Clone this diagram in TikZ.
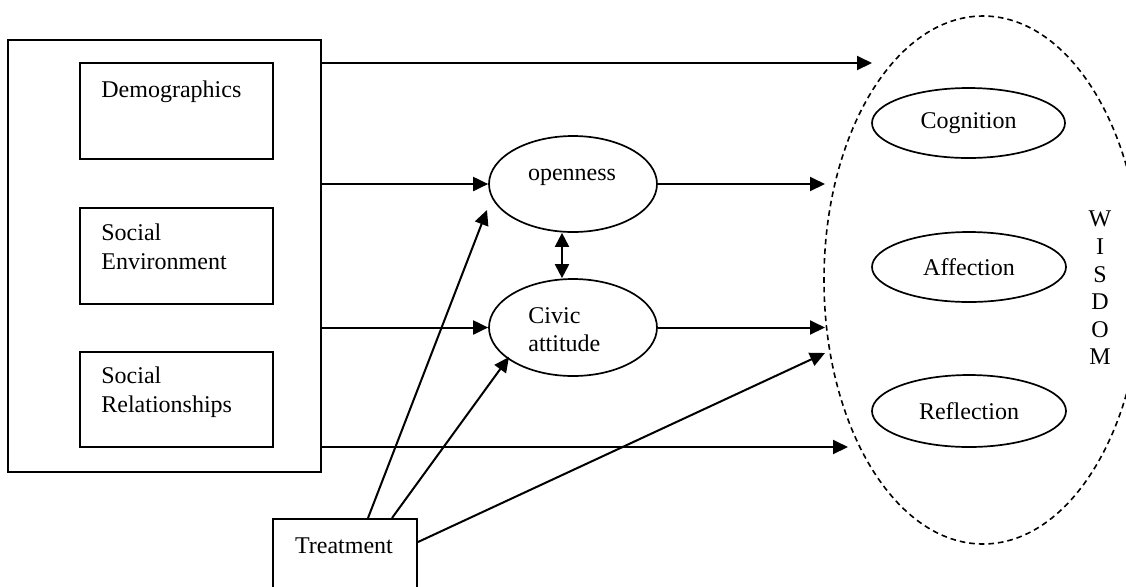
\documentclass[tikz,border=0pt]{standalone}
\usepackage{fontspec}
\setmainfont{Liberation Serif}
\usetikzlibrary{arrows.meta,shapes.geometric,calc}

\tikzset{
  pxbox/.style={draw, rectangle, line width=1pt, inner sep=0pt},
  oval/.style={draw, ellipse, line width=0.85pt, inner sep=0pt},
  lbl/.style={inner sep=0pt, anchor=base west},
  tip/.style={Triangle[length=7.5pt,width=7pt]},
  link/.style={-{Triangle[length=7.5pt,width=7pt]}, line width=1pt},
  duallink/.style={{Triangle[length=7pt,width=7pt]}-{Triangle[length=7pt,width=7pt]}, line width=1pt},
}

\begin{document}
\begin{tikzpicture}[x=0.5pt, y=-0.5pt, font=\fontsize{12}{14}\selectfont]
  \clip (0,0) rectangle (1126,586);

  % background factors
  \node[pxbox, minimum width=156.5pt, minimum height=216pt] (factors) at (164.5,256) {};
  \node[pxbox, minimum width=96.5pt, minimum height=48pt] (demo) at (176.5,111) {};
  \node[pxbox, minimum width=96.5pt, minimum height=48pt] (env) at (176.5,256) {};
  \node[pxbox, minimum width=96.5pt, minimum height=47.5pt] (rel) at (176.5,399.5) {};
  \node[lbl] (demoT) at (101,97) {Demographics};
  \node[lbl] (envA) at (101,240) {Social};
  \node[lbl] (envB) at (101,269) {Environment};
  \node[lbl] (relA) at (101,383) {Social};
  \node[lbl] (relB) at (101,412) {Relationships};

  % treatment
  \node[pxbox, minimum width=72pt, minimum height=50.5pt] (treat) at (345,569.5) {};
  \node[inner sep=0pt, anchor=base] (treatT) at (344,553) {Treatment};

  % mediators
  \node[oval, minimum width=84pt, minimum height=48pt] (open) at (573,184) {};
  \node[inner sep=0pt, anchor=base] (openT) at (572,180) {openness};
  \node[oval, minimum width=84pt, minimum height=48.5pt] (civic) at (573,327.5) {};
  \node[lbl] (civicA) at (528,323) {Civic};
  \node[lbl] (civicB) at (528,351) {attitude};

  % wisdom
  \node[oval, dashed, line width=0.8pt, dash pattern=on 2.8pt off 2pt, minimum width=159pt, minimum height=264pt] (wisdom) at (983,280) {};
  \node[oval, minimum width=96.5pt, minimum height=35pt] (cog) at (968.5,123) {Cognition};
  \node[oval, minimum width=97pt, minimum height=35pt] (aff) at (969,267) {Affection};
  \node[oval, minimum width=97pt, minimum height=36pt] (refl) at (969,411) {Reflection};
  \node[inner sep=0pt, align=center, font=\fontsize{12}{13.8}\selectfont] (wisdomT) at (1100,288) {W\\I\\S\\D\\O\\M};

  % arrow end points near the wisdom boundary
  \coordinate (wTop) at (872,63);
  \coordinate (wOpen) at (825,184);
  \coordinate (wCivic) at (825,327.5);
  \coordinate (wTreat) at (825,353);
  \coordinate (wBot) at (848,447);
  \coordinate (openIn) at (487,210);
  \coordinate (civicIn) at (509,357);
  \coordinate (tA) at ($(treat.north west)+(96,0)$);
  \coordinate (tB) at ($(treat.north west)+(120,0)$);
  \coordinate (tC) at ($(treat.north east)+(0,24)$);

  % connectors
  \draw[link] (factors.east |- wTop) -- (wTop);
  \draw[link] (factors.east |- open.west) -- (open.west);
  \draw[link] (factors.east |- civic.west) -- (civic.west);
  \draw[link] (factors.east |- wBot) -- (wBot);
  \draw[link] (open.east) -- (wOpen);
  \draw[link] (civic.east) -- (wCivic);
  \draw[duallink] (open.south -| 562,0) -- (civic.north -| 562,0);
  \draw[link] (tA) -- (openIn);
  \draw[link] (tB) -- (civicIn);
  \draw[link] (tC) -- (wTreat);
\end{tikzpicture}
\end{document}
